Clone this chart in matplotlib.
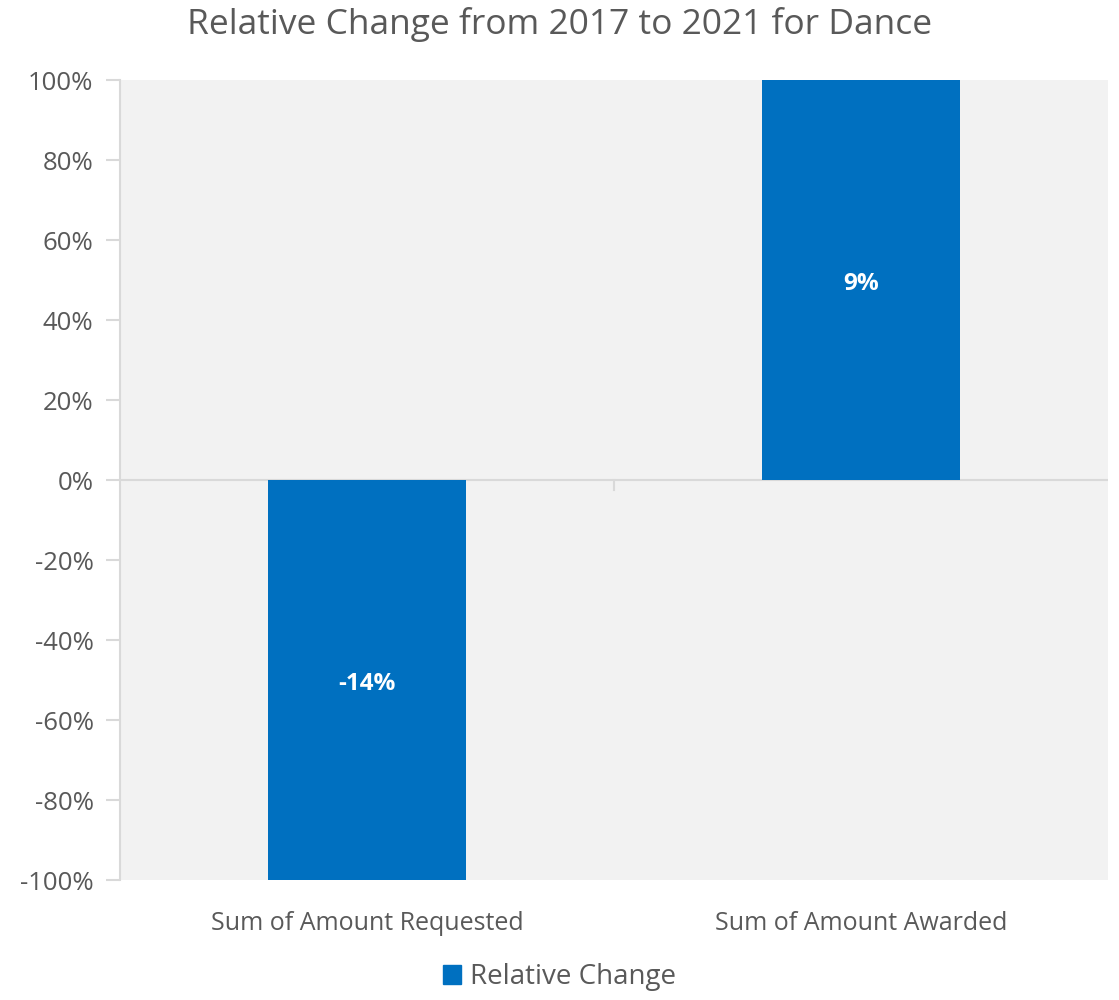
import matplotlib.pyplot as plt
from matplotlib.ticker import FuncFormatter
from matplotlib.patches import Patch
import numpy as np

categories = ["Sum of Amount Requested", "Sum of Amount Awarded"]
# relative change in percent points; the axis is formatted as a fraction, so bars run off the scale
values = [-14, 9]
ytick_values = [-1.0, -0.8, -0.6, -0.4, -0.2, 0.0, 0.2, 0.4, 0.6, 0.8, 1.0]

plt.rcParams['font.family'] = ['Open Sans', 'DejaVu Sans']
text_color = '#595959'
bar_color = '#0070C0'
line_color = '#D9D9D9'

fig = plt.figure(figsize=(11.19, 10), dpi=100)
ax = fig.add_axes([0.1072, 0.12, 0.8830, 0.80])
ax.set_facecolor('#F2F2F2')

x = np.arange(len(categories))
ax.bar(x, values, width=0.4, color=bar_color, zorder=3)
ax.set_xlim(-0.5, 1.5)
ax.set_ylim(-1, 1)

# zero line with category divider tick
ax.axhline(0, color=line_color, linewidth=1.5, zorder=2)
ax.plot([0.5, 0.5], [0, -0.025], color=line_color, linewidth=1.5, zorder=2, clip_on=False)

# data labels in the middle of the visible part of each bar
lo, hi = ax.get_ylim()
for xi, v in zip(x, values):
    vis = min(max(v, lo), hi)
    ax.text(xi, vis / 2 - 0.01, f"{v:.0f}%", ha='center', va='center', color='white',
            fontsize=17.5, fontweight='bold', zorder=4)

ax.set_yticks(ytick_values)
ax.yaxis.set_major_formatter(FuncFormatter(lambda v, p: f"{v * 100:.0f}%"))
ax.set_xticks(x)
ax.set_xticklabels(categories)
ax.tick_params(axis='y', colors=line_color, labelcolor=text_color, labelsize=18.5,
               length=10, width=1.5, pad=9)
ax.tick_params(axis='x', length=0, labelcolor=text_color, labelsize=18, pad=22)

for s in ['top', 'right', 'bottom']:
    ax.spines[s].set_visible(False)
ax.spines['left'].set_color(line_color)
ax.spines['left'].set_linewidth(1.5)

fig.suptitle("Relative Change from 2017 to 2021 for Dance", y=0.993, fontsize=25.5, color=text_color)

fig.legend(handles=[Patch(color=bar_color, label='Relative Change')], loc='lower center',
           bbox_to_anchor=(0.5, -0.016), frameon=False, fontsize=20, labelcolor=text_color,
           handlelength=0.65, handleheight=0.65, handletextpad=0.3)

fig.savefig('out.png', dpi=100)
